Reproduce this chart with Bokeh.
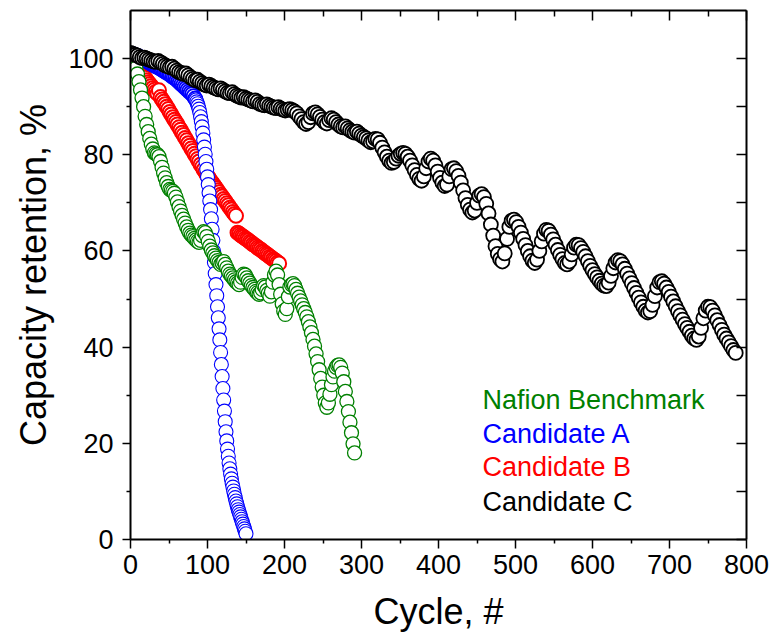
from bokeh.plotting import figure
from bokeh.models import LinearAxis, FixedTicker, Range1d, Label
from bokeh.embed import file_html
from bokeh.resources import INLINE

FONT = "Liberation Sans"

series_names = ["Nafion Benchmark", "Candidate A", "Candidate B", "Candidate C"]
series_colors = ["#008000", "#0000FF", "#FF0000", "#000000"]

# Nafion Benchmark (green)
green_cycle = list(range(1, 290, 2)) + [291]
green_val = [
    100.5, 99.8, 99.0, 98.0, 96.8, 95.2, 93.5, 91.8, 90.0, 88.0,
    86.3, 84.8, 83.4, 82.2, 81.2, 80.4, 80.2, 80.0, 79.6, 78.6,
    77.4, 76.2, 75.2, 74.2, 73.4, 72.8, 72.6, 72.4, 72.0, 71.2,
    70.2, 69.2, 68.3, 67.4, 66.6, 65.8, 65.0, 64.3, 63.7, 63.3,
    63.0, 62.6, 62.3, 62.0, 61.8, 62.2, 63.2, 64.0, 63.8, 63.0,
    62.0, 61.0, 60.2, 59.6, 59.0, 58.5, 58.0, 57.6, 57.2, 57.5,
    57.8, 57.2, 56.5, 55.8, 55.2, 54.8, 54.4, 54.0, 53.6, 53.3,
    53.0, 53.5, 54.5, 55.2, 55.0, 54.4, 53.8, 53.3, 52.8, 52.4,
    52.0, 51.6, 51.3, 51.0, 51.3, 52.0, 52.8, 52.5, 51.8, 51.2,
    50.6, 51.5, 53.5, 55.0, 55.8, 55.0, 53.0, 51.0, 49.0, 47.5,
    46.8, 48.0, 50.5, 52.5, 53.0, 53.2, 52.8, 52.0, 51.2, 50.4,
    49.6, 48.8, 48.0, 47.2, 46.3, 45.3, 44.2, 43.0, 41.6, 40.2,
    38.6, 37.0, 35.3, 33.5, 31.7, 30.0, 28.4, 27.5, 28.4, 30.2,
    32.2, 33.8, 35.0, 35.8, 36.2, 36.3, 35.8, 34.6, 32.8, 30.8,
    28.7, 26.6, 24.4, 22.2, 19.9, 18.0,
]

# Candidate A (blue): slow-fade part, then the collapse
blue_cycle = list(range(2, 85, 2)) + list(range(85, 151))
blue_val = [
    101.0, 100.8, 100.7, 100.6, 100.5, 100.3, 100.1, 99.9, 99.8, 99.6,
    99.4, 99.2, 99.0, 98.8, 98.7, 98.5, 98.3, 98.2, 98.0, 97.8,
    97.6, 97.4, 97.2, 97.0, 96.8, 96.6, 96.3, 96.1, 95.9, 95.6,
    95.3, 95.0, 94.7, 94.4, 94.1, 93.8, 93.5, 93.2, 92.9, 92.6,
    92.2, 91.7,
    91.4, 91.0, 90.6, 90.1, 89.5, 88.8, 87.9, 86.9, 85.8, 84.5,
    83.1, 81.6, 80.1, 78.6, 77.0, 75.4, 73.8, 72.1, 70.4, 68.6,
    66.7, 64.5, 62.2, 59.9, 57.6, 55.3, 53.0, 50.7, 48.4, 46.1,
    43.8, 41.5, 38.9, 36.4, 33.9, 31.4, 29.0, 26.7, 24.5, 22.4,
    20.5, 18.8, 17.3, 15.9, 14.7, 13.6, 12.6, 11.7, 10.9, 10.1,
    9.4, 8.7, 8.0, 7.4, 6.8, 6.2, 5.7, 5.2, 4.7, 4.2,
    3.7, 3.2, 2.7, 2.2, 1.7, 1.2,
]
blue_split = 42  # number of points in the slow-fade part

# Candidate B (red)
red_cycle = list(range(15, 138, 2)) + list(range(139, 194, 2))
red_val = [
    96.8, 96.4, 96.0, 95.5, 95.1, 94.7, 94.3, 93.9, 93.5, 93.1,
    92.7, 93.4, 92.0, 91.5, 91.0, 90.5, 90.0, 89.5, 88.9, 88.4,
    87.8, 87.3, 86.8, 86.3, 85.7, 85.2, 84.6, 84.1, 83.5, 83.0,
    82.4, 81.9, 81.3, 80.8, 80.2, 79.7, 79.1, 78.6, 78.0, 77.5,
    76.9, 76.4, 75.9, 75.4, 74.9, 74.4, 74.0, 73.5, 73.1, 72.6,
    72.2, 71.7, 71.3, 70.8, 70.4, 69.9, 69.5, 69.0, 68.6, 68.1,
    67.7, 67.3,
    63.8, 63.6, 63.3, 63.1, 62.9, 62.6, 62.4, 62.2, 61.9, 61.7,
    61.4, 61.2, 61.0, 60.7, 60.5, 60.3, 60.0, 59.8, 59.5, 59.3,
    59.1, 58.8, 58.6, 58.3, 58.1, 57.9, 57.6, 57.4,
]

# Candidate C (black)
black_cycle = list(range(0, 787, 3))
black_val = [
    101.2, 101.0, 100.8, 100.6, 100.3, 100.1, 100.2, 100.0, 99.8, 99.6,
    99.4, 99.3, 99.5, 99.2, 98.9, 98.6, 98.4, 98.2, 98.3, 97.9,
    97.5, 97.2, 97.0, 96.8, 96.9, 96.5, 96.1, 95.8, 95.5, 95.6,
    95.2, 94.9, 94.6, 94.4, 94.6, 94.3, 94.0, 93.8, 93.6, 93.8,
    93.5, 93.2, 92.9, 92.8, 93.0, 92.6, 92.3, 92.1, 91.9, 92.0,
    91.7, 91.5, 91.3, 91.1, 91.3, 91.0, 90.6, 90.4, 90.3, 90.5,
    90.2, 90.0, 89.8, 89.7, 89.9, 89.6, 89.4, 89.2, 89.4, 89.5,
    89.3, 89.0, 88.6, 88.0, 87.4, 86.8, 86.4, 86.8, 87.8, 88.6,
    88.8, 88.4, 87.9, 87.3, 86.8, 86.5, 87.2, 87.6, 87.3, 86.8,
    86.3, 85.9, 85.7, 85.9, 85.5, 85.1, 84.8, 84.6, 84.8, 84.4,
    84.0, 83.7, 83.4, 83.0, 82.6, 82.8, 83.3, 83.2, 82.5, 81.5,
    80.5, 79.6, 78.8, 78.3, 78.5, 79.2, 79.8, 80.2, 80.4, 80.2,
    79.6, 78.8, 77.8, 76.8, 75.8, 75.0, 74.6, 75.5, 77.2, 78.6,
    79.2, 78.8, 77.8, 76.5, 75.2, 74.2, 73.5, 73.8, 75.5, 77.0,
    77.2, 76.6, 75.6, 74.2, 72.6, 71.0, 69.6, 68.6, 68.0, 68.4,
    70.0, 71.5, 71.8, 71.2, 69.8, 67.8, 65.5, 63.2, 61.0, 59.4,
    58.3, 57.8, 59.5, 62.5, 65.0, 66.3, 66.5, 66.0, 65.0, 63.8,
    62.5, 61.2, 60.0, 58.9, 58.0, 57.5, 58.2, 60.0, 62.0, 63.6,
    64.4, 64.2, 63.4, 62.4, 61.3, 60.2, 59.2, 58.3, 57.5, 57.2,
    57.8, 59.3, 60.7, 61.3, 61.2, 60.6, 59.8, 58.9, 57.9, 56.9,
    56.0, 55.2, 54.5, 53.8, 53.2, 52.8, 52.7, 53.4, 54.8, 56.4,
    57.6, 58.1, 57.9, 57.2, 56.3, 55.3, 54.3, 53.3, 52.3, 51.3,
    50.3, 49.3, 48.4, 47.6, 47.2, 47.5, 48.8, 50.6, 52.4, 53.5,
    53.7, 53.2, 52.4, 51.5, 50.5, 49.5, 48.5, 47.5, 46.6, 45.7,
    44.8, 44.0, 43.2, 42.4, 41.8, 41.5, 42.2, 44.0, 46.0, 47.6,
    48.4, 48.3, 47.6, 46.6, 45.6, 44.6, 43.6, 42.6, 41.8, 41.0,
    40.2, 39.4, 38.8,
]

x_major = list(range(0, 801, 100))
x_minor = list(range(50, 800, 100))
y_major = list(range(0, 101, 20))
y_minor = list(range(10, 100, 20))
y_right = list(range(0, 101, 10))

# legend text anchors (data coords, vertical centre of each line)
legend_x = 457
legend_y = [29.0, 22.0, 15.1, 7.9]

p = figure(frame_width=616, frame_height=529,
           x_range=Range1d(0, 800), y_range=Range1d(0, 110),
           output_backend="svg", toolbar_location=None,
           min_border_left=130, min_border_top=10,
           min_border_right=30, min_border_bottom=100)
p.outline_line_color = None
p.xgrid.visible = False
p.ygrid.visible = False
p.background_fill_color = "white"
p.border_fill_color = "white"

def style_axis(ax):
    ax.axis_line_width = 2
    ax.axis_line_color = "black"
    ax.major_tick_line_width = 1.5
    ax.minor_tick_line_width = 1.5
    ax.major_tick_line_color = "black"
    ax.minor_tick_line_color = "black"
    ax.major_label_text_font = FONT
    ax.major_label_text_font_size = "27px"
    ax.major_label_text_color = "black"
    ax.axis_label_text_font = FONT
    ax.axis_label_text_font_size = "36px"
    ax.axis_label_text_font_style = "normal"
    ax.axis_label_text_color = "black"

xa = p.xaxis[0]
style_axis(xa)
xa.ticker = FixedTicker(ticks=x_major, minor_ticks=x_minor)
xa.major_tick_out = 9
xa.major_tick_in = 0
xa.minor_tick_out = 4
xa.minor_tick_in = 0
xa.major_label_standoff = 6
xa.axis_label = "Cycle, #"
xa.axis_label_standoff = 14

ya = p.yaxis[0]
style_axis(ya)
ya.ticker = FixedTicker(ticks=y_major, minor_ticks=y_minor)
ya.major_tick_out = 8
ya.major_tick_in = 0
ya.minor_tick_out = 4
ya.minor_tick_in = 0
ya.major_label_standoff = 9
ya.axis_label = "Capacity retention, %"
ya.axis_label_standoff = 11

top = LinearAxis(ticker=FixedTicker(ticks=x_major, minor_ticks=x_minor))
style_axis(top)
top.major_tick_in = 10
top.major_tick_out = 0
top.minor_tick_in = 6
top.minor_tick_out = 0
top.major_label_overrides = {t: "" for t in x_major}
top.major_label_text_font_size = "0px"
top.major_label_standoff = 0
p.add_layout(top, "above")

right = LinearAxis(ticker=FixedTicker(ticks=y_right, minor_ticks=[]))
style_axis(right)
right.major_tick_in = 10
right.major_tick_out = 0
right.minor_tick_in = 0
right.minor_tick_out = 0
right.major_label_overrides = {t: "" for t in y_right}
right.major_label_text_font_size = "0px"
right.major_label_standoff = 0
p.add_layout(right, "right")

# draw order: red, blue, green, black
p.scatter(red_cycle, red_val, marker="circle", size=14, fill_color="white",
          line_color=series_colors[2], line_width=2.0)
p.scatter(blue_cycle[:blue_split], blue_val[:blue_split], marker="circle",
          size=14, fill_color="white", line_color=series_colors[1], line_width=1.8)
p.scatter(blue_cycle[blue_split:], blue_val[blue_split:], marker="circle",
          size=14, fill_color="white", line_color=series_colors[1], line_width=1.1)
p.scatter(green_cycle, green_val, marker="circle", size=14, fill_color="white",
          line_color=series_colors[0], line_width=1.3)
p.scatter(black_cycle, black_val, marker="circle", size=14, fill_color="white",
          line_color=series_colors[3], line_width=1.8)

for name, color, yy in zip(series_names, series_colors, legend_y):
    p.add_layout(Label(x=legend_x, y=yy, text=name, text_color=color,
                       text_font=FONT, text_font_size="27px",
                       text_baseline="middle", text_align="left"))

open("out.html", "w").write(file_html(p, INLINE))
